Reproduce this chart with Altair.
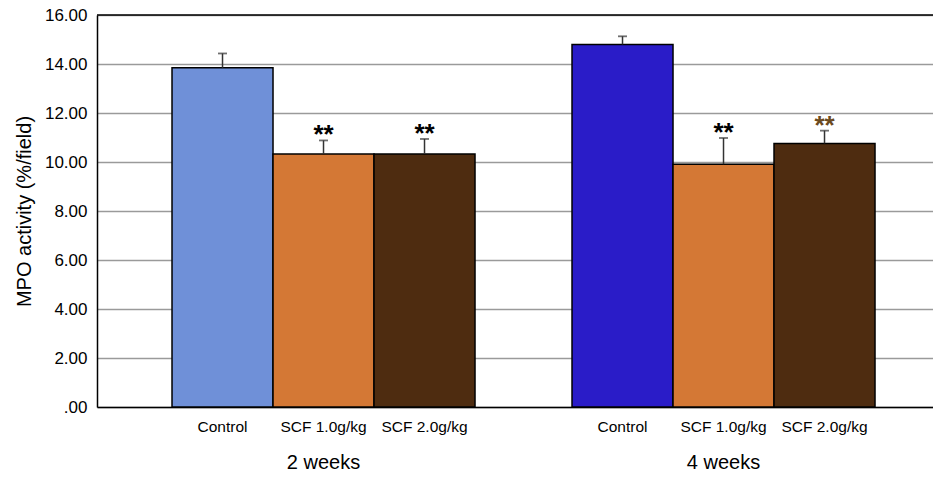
import altair as alt
import pandas as pd

groups = ["2 weeks", "2 weeks", "2 weeks", "4 weeks", "4 weeks", "4 weeks"]
treatments = ["Control", "SCF 1.0g/kg", "SCF 2.0g/kg", "Control", "SCF 1.0g/kg", "SCF 2.0g/kg"]
means = [13.85, 10.33, 10.33, 14.80, 9.91, 10.76]
errors = [0.58, 0.55, 0.61, 0.33, 1.07, 0.52]
stars = ["", "**", "**", "", "**", "**"]

group_order = ["2 weeks", "4 weeks"]
treat_order = ["Control", "SCF 1.0g/kg", "SCF 2.0g/kg"]
y_ticks = [0, 2, 4, 6, 8, 10, 12, 14, 16]

df = pd.DataFrame({
    "group": groups,
    "treatment": treatments,
    "mean": means,
    "err": errors,
    "star": stars,
})
df["upper"] = df["mean"] + df["err"]
df["key"] = [t + " " + g if t == "Control" else t for t, g in zip(treatments, groups)]

key_domain = ["Control 2 weeks", "Control 4 weeks", "SCF 1.0g/kg", "SCF 2.0g/kg"]
key_range = ["#6f90d8", "#2a1cc8", "#d47835", "#4e2c10"]

x_enc = alt.X(
    "group:N",
    scale=alt.Scale(domain=group_order, paddingInner=0.2425, paddingOuter=0.16625, align=0.564),
    axis=alt.Axis(title=None, labelAngle=0, ticks=False, domainColor="black", domainWidth=1.5,
                  labelFontSize=20, labelBaseline="alphabetic", labelPadding=61, labelColor="black"),
)
xo_enc = alt.XOffset("treatment:N", scale=alt.Scale(domain=treat_order, paddingInner=0, paddingOuter=0))
y_scale = alt.Scale(domain=[0, 16], nice=False)

base = alt.Chart(df)

bars = base.mark_bar(stroke="black", strokeWidth=1.5).encode(
    x=x_enc,
    xOffset=xo_enc,
    y=alt.Y(
        "mean:Q",
        scale=y_scale,
        axis=alt.Axis(
            values=y_ticks,
            labelExpr="datum.value == 0 ? '.00' : format(datum.value, '.2f')",
            ticks=False,
            labelPadding=10,
            labelFontSize=17,
            labelColor="black",
            title="MPO activity (%/field)",
            titleFontSize=20,
            titleFontWeight="normal",
            titleColor="black",
            titlePadding=10,
            gridColor="#9a9a9a",
            gridWidth=1.5,
            domainColor="black",
            domainWidth=1.5,
        ),
    ),
    color=alt.Color("key:N", scale=alt.Scale(domain=key_domain, range=key_range), legend=None),
)

err_rule = base.mark_rule(color="#333333", strokeWidth=1.5).encode(
    x=x_enc, xOffset=xo_enc,
    y=alt.Y("mean:Q", scale=y_scale),
    y2="upper:Q",
)

caps = base.mark_tick(color="#333333", size=9, thickness=1.8, orient="horizontal").encode(
    x=x_enc, xOffset=xo_enc,
    y=alt.Y("upper:Q", scale=y_scale),
)

star_text = base.mark_text(fontSize=26, fontWeight="bold", baseline="alphabetic", dy=3).encode(
    x=x_enc, xOffset=xo_enc,
    y=alt.Y("upper:Q", scale=y_scale),
    text="star:N",
    color=alt.condition(
        "datum.group == '4 weeks' && datum.treatment == 'SCF 2.0g/kg'",
        alt.value("#6b4a20"), alt.value("black")
    ),
)

treat_labels = base.mark_text(fontSize=15.5, baseline="middle", color="black").encode(
    x=x_enc, xOffset=xo_enc,
    y=alt.value(412),
    text="treatment:N",
)

top_line = alt.Chart(pd.DataFrame({"v": [16]})).mark_rule(color="black", strokeWidth=1.5).encode(
    y=alt.Y("v:Q", scale=y_scale)
)

chart = alt.layer(bars, err_rule, caps, star_text, treat_labels, top_line).properties(
    width=836,
    height=392,
    autosize=alt.AutoSizeParams(type="none"),
    padding={"left": 89, "top": 7, "right": 0, "bottom": 64},
).configure_view(stroke=None).configure(font="Liberation Sans")

chart.save("out.html", embed_options={"renderer": "svg", "actions": False})
